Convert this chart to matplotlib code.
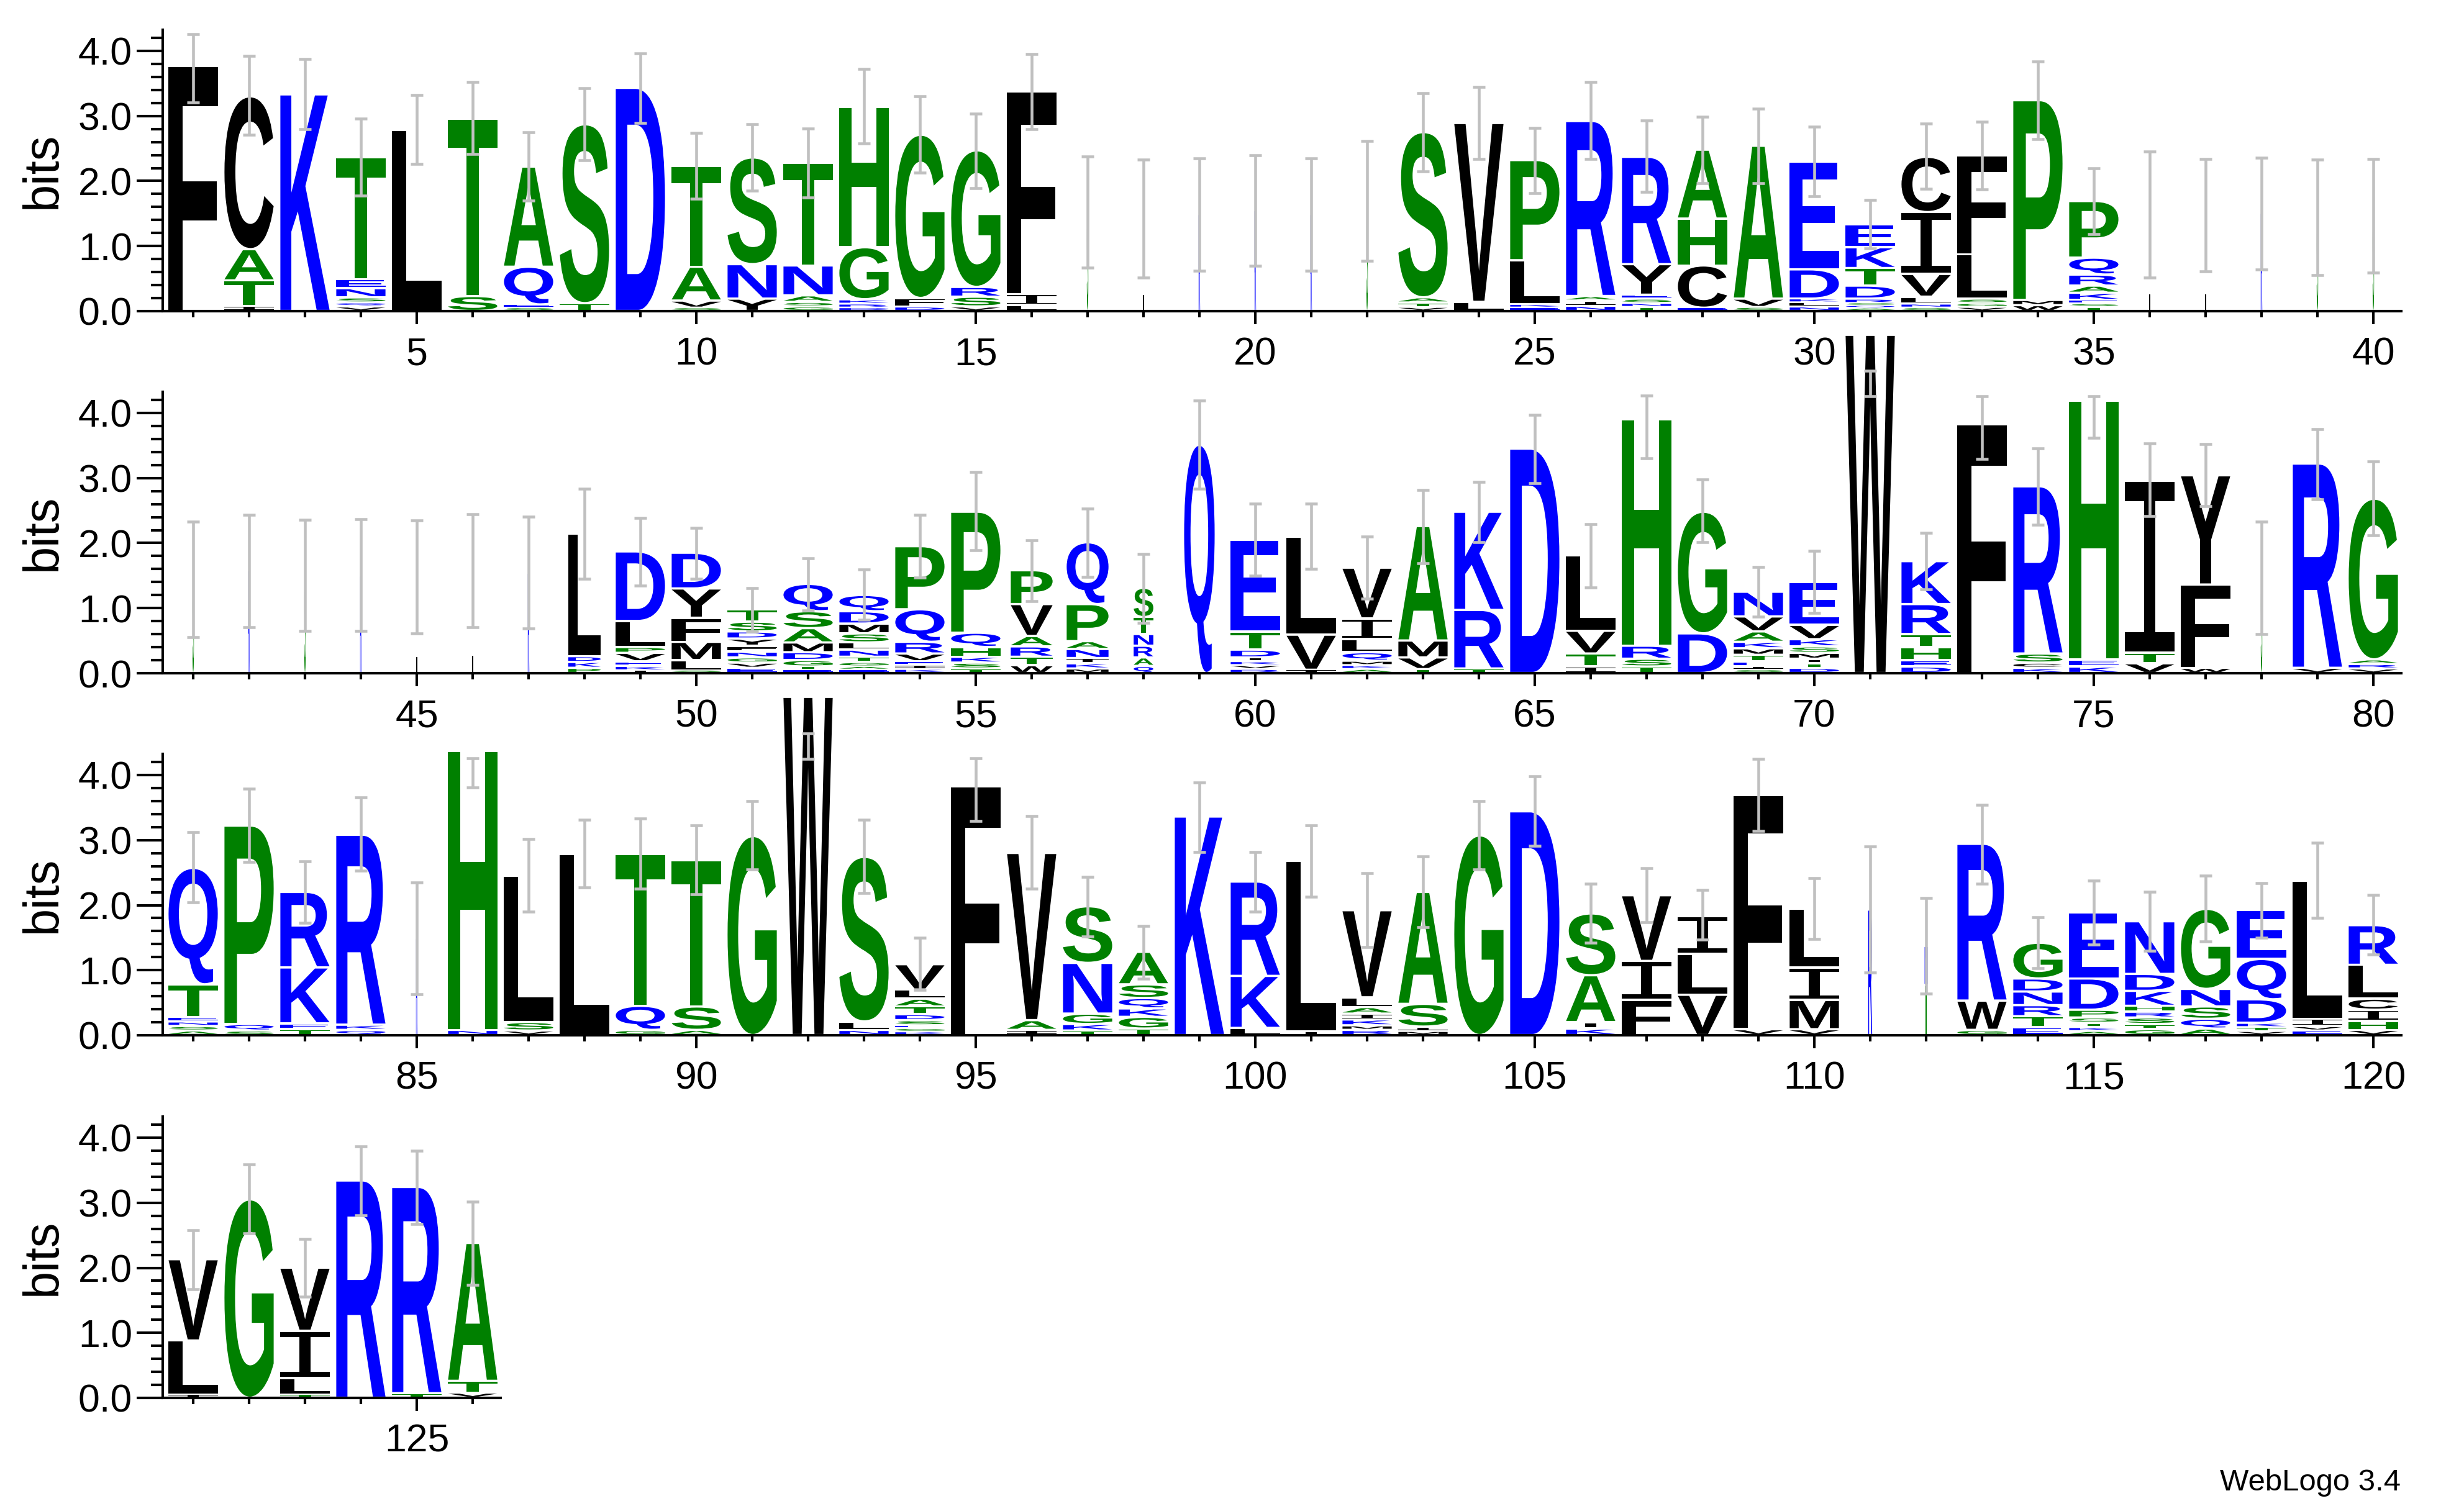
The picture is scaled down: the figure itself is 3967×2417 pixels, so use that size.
import matplotlib
matplotlib.use("Agg")
import matplotlib.pyplot as plt
from matplotlib.textpath import TextPath
from matplotlib.patches import PathPatch
from matplotlib.font_manager import FontProperties
from matplotlib.transforms import Affine2D
from matplotlib.ticker import MultipleLocator, FixedLocator, NullFormatter

plt.rcParams['font.family'] = ['Liberation Sans', 'DejaVu Sans']

# letters at each position, top to bottom, height in bits
stacks = [
    "F:3.77", "C:2.35 A:0.48 T:0.39 I:0.08", "K:3.33",
    "T:1.87 E:0.14 N:0.14 S:0.08 Q:0.06 V:0.07", "L:2.78", "T:2.73 S:0.23",
    "A:1.54 Q:0.58 E:0.05 S:0.05", "S:2.75 T:0.12", "D:3.43",
    "T:1.55 A:0.52 V:0.11 S:0.05",
    "S:1.64 N:0.53 Y:0.19", "T:1.58 N:0.46 A:0.10 S:0.07 G:0.07",
    "H:2.16 G:0.80 K:0.07 R:0.06 D:0.05", "G:2.51 F:0.13 D:0.07",
    "G:2.10 R:0.15 S:0.15 V:0.07", "F:3.12 I:0.17 L:0.09", "S:1.52", "L:1.43",
    "R:1.49", "R:1.55",
    "R:1.49", "S:1.70", "S:2.54 A:0.08 T:0.07 V:0.06", "V:2.75 L:0.14",
    "P:1.54 L:0.68 K:0.05 E:0.05", "R:2.69 A:0.07 I:0.08 N:0.08",
    "R:1.65 Y:0.47 E:0.06 S:0.07 N:0.06 T:0.06", "A:1.06 H:0.72 C:0.65 E:0.05",
    "A:2.35 V:0.13 S:0.06", "E:1.66 D:0.45 K:0.06 L:0.06 N:0.07",
    "E:0.35 K:0.32 T:0.27 D:0.20 R:0.07 S:0.04 Q:0.04 A:0.04",
    "C:0.85 I:0.95 V:0.35 L:0.11 N:0.06 S:0.05",
    "F:1.52 L:0.68 S:0.07 G:0.06 V:0.06", "P:3.07 M:0.08 W:0.09",
    "P:0.87 Q:0.26 R:0.17 A:0.11 K:0.11 E:0.06 S:0.05 T:0.06",
    "L:1.49", "L:1.48", "R:1.51", "S:1.43", "S:1.48",
    "S:1.43", "R:1.58", "S:1.50", "R:1.50", "L:1.47", "L:1.57", "R:1.54",
    "L:1.88 D:0.09 K:0.09 P:0.08", "D:1.07 L:0.40 P:0.09 V:0.13 E:0.07 K:0.07 I:0.04",
    "D:0.55 Y:0.45 F:0.37 M:0.28 L:0.16 S:0.04",
    "T:0.19 S:0.15 D:0.11 Y:0.11 F:0.09 N:0.09 G:0.08 V:0.08 E:0.08",
    "Q:0.42 S:0.26 A:0.22 M:0.15 D:0.12 G:0.10 T:0.05 E:0.05",
    "Q:0.25 D:0.19 M:0.15 S:0.14 L:0.11 N:0.11 T:0.08 G:0.07 A:0.05 E:0.05",
    "P:0.97 Q:0.50 R:0.18 V:0.12 E:0.06 I:0.06 K:0.06",
    "P:1.86 Q:0.22 H:0.15 K:0.09 S:0.09 T:0.07",
    "P:0.52 V:0.49 A:0.16 R:0.16 T:0.13 W:0.12",
    "Q:0.95 P:0.57 A:0.12 N:0.14 I:0.08 K:0.08 M:0.07",
    "S:0.45 T:0.26 N:0.18 R:0.18 A:0.13 Q:0.11", "Q:3.51",
    "E:1.41 T:0.28 D:0.12 I:0.06 K:0.06 V:0.06 R:0.06",
    "L:1.51 V:0.54 I:0.05", "V:0.78 I:0.32 L:0.20 Q:0.13 M:0.07 K:0.06 A:0.06",
    "A:1.76 M:0.26 V:0.18 T:0.06", "K:1.51 R:0.90 T:0.07", "D:3.45",
    "L:1.16 V:0.35 T:0.20 I:0.10", "H:3.48 R:0.20 S:0.12 T:0.10", "G:1.87 D:0.61",
    "N:0.38 V:0.23 A:0.16 K:0.10 M:0.10 T:0.10 E:0.08 I:0.05 S:0.05",
    "E:0.66 V:0.22 K:0.11 S:0.10 M:0.09 I:0.07 T:0.07 D:0.08",
    "W:5.20", "K:0.66 R:0.46 T:0.20 H:0.20 E:0.10 D:0.10", "F:3.82",
    "R:2.57 S:0.14 C:0.08 K:0.08", "H:3.98 E:0.11 K:0.10", "I:2.65 T:0.16 V:0.15",
    "Y:1.68 F:1.28 W:0.08", "S:1.47", "R:3.14 V:0.08", "G:2.47 A:0.07 R:0.07 V:0.07",
    "Q:1.79 T:0.50 E:0.07 N:0.07 S:0.07 A:0.07", "P:3.05 Q:0.10 S:0.07",
    "R:1.16 K:0.86 E:0.09 T:0.09", "R:2.92 K:0.08 Q:0.08", "R:1.49",
    "H:4.29 N:0.08", "L:2.25 S:0.13 V:0.07", "L:2.78", "T:2.33 Q:0.37 G:0.08",
    "T:2.25 S:0.36 A:0.08",
    "G:3.06", "W:5.20", "S:2.53 L:0.13 N:0.08",
    "V:0.39 L:0.14 A:0.12 T:0.12 D:0.09 S:0.08 E:0.05 G:0.05 K:0.05",
    "F:3.82", "V:2.57 A:0.15 I:0.08", "S:0.87 N:0.78 G:0.16 K:0.10 T:0.07",
    "A:0.50 S:0.21 Q:0.16 K:0.13 G:0.18 T:0.10", "K:3.36", "R:1.45 K:0.80 L:0.11",
    "L:2.62 I:0.06", "V:1.34 L:0.15 A:0.10 I:0.09 K:0.09 M:0.07 R:0.08",
    "A:1.72 S:0.35 I:0.07 M:0.06", "G:3.07", "D:3.44", "S:0.95 A:0.72 I:0.10 K:0.10",
    "V:1.01 I:0.60 F:0.54", "I:0.58 L:0.63 V:0.62", "F:3.60 V:0.09",
    "L:0.90 I:0.50 M:0.45 V:0.09",
    "R:1.93", "N:0.60 T:0.77", "R:2.41 W:0.45 G:0.08",
    "G:0.55 D:0.20 N:0.21 R:0.17 T:0.17 E:0.12",
    "E:1.02 D:0.48 P:0.12 S:0.08 T:0.07 K:0.06 A:0.06",
    "N:0.81 D:0.26 K:0.23 H:0.09 R:0.09 S:0.10 T:0.08 G:0.09",
    "G:1.23 N:0.27 S:0.19 Q:0.15 A:0.10", "E:0.75 Q:0.62 D:0.36 K:0.07 T:0.06 V:0.06",
    "L:2.12 I:0.11 V:0.07 E:0.07", "R:0.61 L:0.52 C:0.17 I:0.17 H:0.14 V:0.08",
    "V:1.25 L:0.83 I:0.05", "G:3.05", "V:0.97 I:0.73 L:0.25 T:0.05", "R:3.34",
    "R:3.17 T:0.07", "A:2.12 T:0.18 V:0.08",
]

err_lo = [
    3.21, 2.71, 2.80, 1.78, 2.26, 2.42, 1.70, 2.32, 2.89, 1.73,
    1.85, 1.75, 2.58, 2.13, 1.89, 2.80, 0.67, 0.52, 0.62, 0.70,
    0.62, 0.77, 2.15, 2.34, 1.81, 2.34, 1.83, 1.97, 1.97, 1.77,
    0.96, 1.88, 1.87, 2.64, 1.18, 0.52, 0.61, 0.64, 0.55, 0.59,
    0.55, 0.71, 0.65, 0.65, 0.61, 0.71, 0.69, 1.45, 1.35, 1.45,
    0.64, 0.96, 0.82, 1.47, 1.89, 1.11, 1.48, 0.77, 2.84, 1.50,
    1.60, 1.15, 1.69, 2.01, 2.92, 1.32, 3.30, 2.01, 0.87, 0.93,
    4.26, 1.29, 3.29, 2.28, 3.62, 2.42, 2.57, 0.60, 2.67, 2.12,
    2.04, 2.66, 1.73, 2.53, 0.63, 3.81, 1.90, 2.27, 2.25, 2.17,
    2.55, 4.25, 2.19, 0.70, 3.29, 2.25, 1.52, 0.87, 2.82, 1.90,
    2.13, 1.36, 1.66, 2.55, 2.91, 1.42, 1.74, 1.47, 3.14, 1.48,
    0.96, 0.64, 2.33, 1.03, 1.39, 1.30, 1.44, 1.50, 1.80, 1.24,
    1.67, 2.53, 1.56, 2.81, 2.67, 1.74,
]
err_hi = [
    4.26, 3.92, 3.88, 2.96, 3.32, 3.52, 2.75, 3.43, 3.96, 2.74,
    2.87, 2.81, 3.72, 3.30, 3.04, 3.95, 2.38, 2.33, 2.35, 2.40,
    2.35, 2.62, 3.35, 3.45, 2.82, 3.52, 2.93, 2.99, 3.11, 2.84,
    1.71, 2.88, 2.91, 3.84, 2.20, 2.45, 2.34, 2.36, 2.33, 2.34,
    2.33, 2.43, 2.36, 2.37, 2.35, 2.44, 2.41, 2.84, 2.39, 2.23,
    1.31, 1.77, 1.59, 2.43, 3.09, 2.04, 2.53, 1.83, 4.19, 2.61,
    2.61, 2.10, 2.82, 2.94, 3.97, 2.29, 4.27, 2.98, 1.63, 1.88,
    4.65, 2.16, 4.26, 3.46, 4.26, 3.53, 3.52, 2.33, 3.75, 3.26,
    3.12, 3.79, 2.67, 3.66, 2.35, 4.26, 3.02, 3.31, 3.33, 3.23,
    3.60, 4.64, 3.31, 1.50, 4.26, 3.37, 2.43, 1.68, 3.89, 2.82,
    3.23, 2.49, 2.75, 3.60, 3.98, 2.33, 2.57, 2.23, 4.25, 2.42,
    2.90, 2.11, 3.54, 1.81, 2.38, 2.21, 2.45, 2.34, 2.96, 2.16,
    2.58, 3.59, 2.44, 3.87, 3.80, 3.02,
]

# relative stack widths (gappy columns are narrow)
stack_width = {p: 0.03 for p in [17, 18, 19, 20, 21, 22, 36, 37, 38, 39, 40,
                                 41, 42, 43, 44, 45, 46, 47, 78, 85]}
stack_width.update({48: 0.66, 56: 0.85, 57: 0.85, 58: 0.40, 59: 0.62,
                    111: 0.08, 112: 0.06})

rows = [(1, 40), (41, 80), (81, 120), (121, 126)]

colors = {}
for c in "RKDENQ":
    colors[c] = "#0000ff"
for c in "SGHTAP":
    colors[c] = "#008000"
for c in "YVMCLFIW":
    colors[c] = "#000000"

sans_bold = FontProperties(family="Liberation Sans", weight="bold")
mono = FontProperties(family="Liberation Mono", weight="normal")


def draw_letter(ax, ch, x, y, w, h):
    fp = mono if ch == "I" else sans_bold
    tp = TextPath((0, 0), ch, size=1, prop=fp)
    bb = tp.get_extents()
    tr = Affine2D().translate(-bb.x0, -bb.y0).scale(w / bb.width, h / bb.height)
    tr = tr.translate(x - w / 2, y)
    ax.add_patch(PathPatch(tr.transform_path(tp), fc=colors[ch], ec="none",
                           lw=0, clip_on=False, zorder=2))


W, H = 3967, 2417
fig = plt.figure(figsize=(W / 300, H / 300), dpi=300)
fig.patch.set_facecolor("white")

pos_px = 90.0
left_px = 266
base_px = [501, 1084, 1667, 2251]
bit_px = 104.75
ymax = 4.32
ax_h = ymax * bit_px / H
gap = 0.035
base = 0.02

for (first, last), bpx in zip(rows, base_px):
    n = last - first + 1
    ax = fig.add_axes([left_px / W, 1 - bpx / H, n * pos_px / W, ax_h])
    ax.set_xlim(first - 0.5, last + 0.5)
    ax.set_ylim(0, ymax)
    for s in ["top", "right"]:
        ax.spines[s].set_visible(False)
    for s in ["left", "bottom"]:
        ax.spines[s].set_linewidth(1.0)
    ax.spines["left"].set_position(("outward", 1))

    ax.yaxis.set_major_locator(FixedLocator([0, 1, 2, 3, 4]))
    ax.yaxis.set_minor_locator(FixedLocator([v / 5 for v in range(22) if v % 5]))
    ax.set_yticklabels(["0.0", "1.0", "2.0", "3.0", "4.0"])
    ax.tick_params(axis="y", which="major", direction="out", length=10, width=1,
                   pad=1.7, labelsize=15)
    ax.tick_params(axis="y", which="minor", direction="out", length=4.6, width=1)

    ax.xaxis.set_major_locator(MultipleLocator(5))
    ax.xaxis.set_minor_locator(MultipleLocator(1))
    ax.xaxis.set_minor_formatter(NullFormatter())
    ax.tick_params(axis="x", which="major", direction="out", length=5, width=1,
                   pad=4.8, labelsize=15)
    ax.tick_params(axis="x", which="minor", direction="out", length=2.4, width=1)

    for p in range(first, last + 1):
        items = [(t[0], float(t[2:])) for t in stacks[p - 1].split()]
        w = 0.88 * stack_width.get(p, 1.0)
        y = base
        for ch, h in reversed(items):
            gh = h - gap if h > 2 * gap else h * 0.5
            draw_letter(ax, ch, p, y, w, gh)
            y += h
        lo, hi = err_lo[p - 1], err_hi[p - 1]
        ax.vlines(p, lo, hi, color="#c0c0c0", lw=1.1, zorder=3, clip_on=False)
        ax.hlines([lo, hi], p - 0.115, p + 0.115, color="#c0c0c0", lw=1.1,
                  zorder=3, clip_on=False)

    fig.text(69 / W, 1 - bpx / H + ax_h / 2, "bits", rotation=90,
             ha="center", va="center", fontsize=19)

fig.text(3865 / W, 1 - 2400 / H, "WebLogo 3.4", ha="right", va="baseline",
         fontsize=11.8)

fig.savefig("out.png", dpi=300, facecolor="white")
